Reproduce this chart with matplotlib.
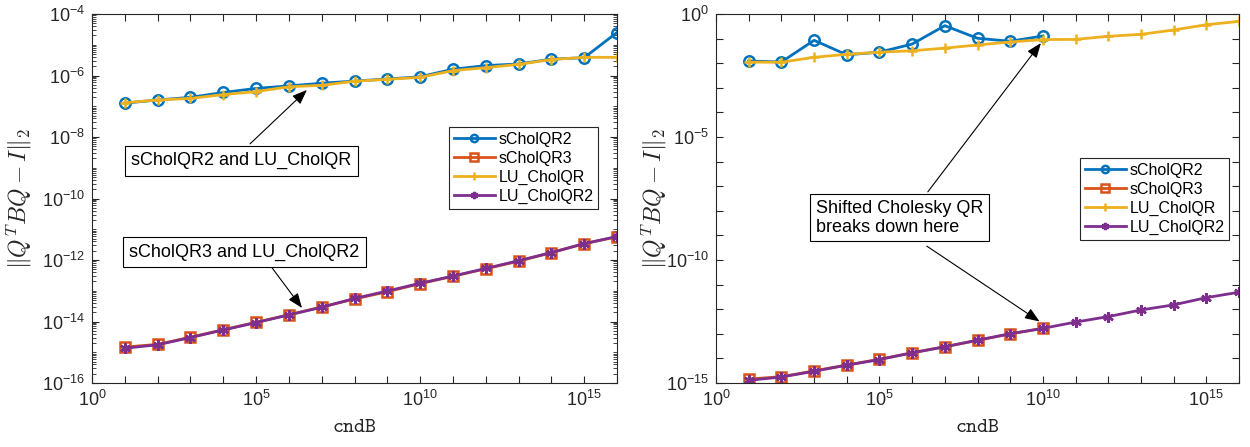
import numpy as np
import matplotlib
matplotlib.use("Agg")
import matplotlib.pyplot as plt
from matplotlib.ticker import FixedLocator, LogLocator, FuncFormatter, NullLocator, NullFormatter

plt.rcParams['font.family'] = ['Liberation Sans', 'DejaVu Sans']
plt.rcParams['mathtext.fontset'] = 'custom'
plt.rcParams['mathtext.rm'] = 'Liberation Sans'
plt.rcParams['mathtext.it'] = 'Liberation Sans:italic'
plt.rcParams['mathtext.default'] = 'it'

# condition number of B: 10^1 ... 10^16
cnd = 10.0 ** np.arange(1, 17)

# --- left panel ---
left_scholqr2 = [1.26e-7, 1.6e-7, 1.95e-7, 2.8e-7, 3.8e-7, 4.6e-7, 5.6e-7, 6.6e-7,
                 7.7e-7, 9.1e-7, 1.6e-6, 2.1e-6, 2.37e-6, 3.4e-6, 3.8e-6, 2.5e-5]
left_scholqr3 = [1.48e-15, 1.8e-15, 3.1e-15, 5.4e-15, 9.4e-15, 1.66e-14, 2.96e-14, 5.4e-14,
                 9.3e-14, 1.7e-13, 2.95e-13, 5.2e-13, 9.1e-13, 1.73e-12, 3.4e-12, 5.7e-12]
left_lu_cholqr = [1.3e-7, 1.6e-7, 1.8e-7, 2.4e-7, 3.0e-7, 4.3e-7, 4.8e-7, 6.5e-7,
                  7.5e-7, 8.7e-7, 1.44e-6, 1.8e-6, 2.3e-6, 3.3e-6, 3.9e-6, 3.9e-6]
left_lu_cholqr2 = [1.35e-15, 1.75e-15, 3.0e-15, 5.3e-15, 9.2e-15, 1.64e-14, 2.9e-14, 5.6e-14,
                   9.8e-14, 1.75e-13, 3.0e-13, 5.3e-13, 9.5e-13, 1.75e-12, 3.4e-12, 5.8e-12]

# --- right panel (shifted CholeskyQR stops at cndB = 1e10) ---
right_scholqr2 = [0.0123, 0.0112, 0.085, 0.022, 0.028, 0.06, 0.335, 0.103, 0.078, 0.128]
right_scholqr3 = [1.45e-15, 1.8e-15, 3.1e-15, 5.4e-15, 9.2e-15, 1.7e-14, 3.0e-14, 5.4e-14,
                  1.0e-13, 1.66e-13]
right_lu_cholqr = [0.011, 0.011, 0.0174, 0.023, 0.028, 0.032, 0.041, 0.055,
                   0.073, 0.091, 0.093, 0.124, 0.149, 0.224, 0.367, 0.50]
right_lu_cholqr2 = [1.29e-15, 1.75e-15, 3.0e-15, 5.3e-15, 9.0e-15, 1.68e-14, 2.95e-14, 5.5e-14,
                    1.0e-13, 1.66e-13, 3.0e-13, 5.0e-13, 9.3e-13, 1.5e-12, 2.95e-12, 4.9e-12]

labels = ['sCholQR2', 'sCholQR3', 'LU_CholQR', 'LU_CholQR2']
colors = ['#0072BD', '#D95319', '#EDB120', '#7E2F8E']
markers = ['o', 's', '+', (6, 2, 0)]
axcol = '#262626'


def log_label(step):
    def fmt(v, pos):
        e = int(round(np.log10(v)))
        if e % step != 0:
            return ''
        return r'$10^{%d}$' % e
    return fmt


def draw_panel(ax, series):
    for (x, y), lab, c, m in zip(series, labels, colors, markers):
        ax.plot(x, y, color=c, marker=m, lw=2, ms=7.5, mew=1.8,
                mfc='none', label=lab)
    ax.set_xscale('log')
    ax.set_yscale('log')
    ax.set_xlim(1, 1e16)
    ax.xaxis.set_major_locator(FixedLocator(10.0 ** np.arange(0, 17)))
    ax.xaxis.set_minor_locator(NullLocator())
    ax.xaxis.set_major_formatter(FuncFormatter(log_label(5)))
    ax.xaxis.set_minor_formatter(NullFormatter())
    ax.yaxis.set_minor_formatter(NullFormatter())
    ax.tick_params(which='both', direction='in', top=True, right=True,
                   colors=axcol, labelsize=13, pad=5)
    ax.tick_params(which='major', length=5, width=0.8)
    ax.tick_params(which='minor', length=3, width=0.6)
    for s in ax.spines.values():
        s.set_color(axcol)
        s.set_linewidth(0.8)
    ax.set_xlabel(r'$\mathtt{cndB}$', math_fontfamily='cm', fontsize=15,
                  color=axcol, labelpad=5)
    ax.set_ylabel(r'$\|Q^TBQ-I\|_2$', math_fontfamily='cm', fontsize=17, color=axcol)


fig = plt.figure(figsize=(12.5, 4.47), dpi=100)
ax1 = fig.add_axes([92 / 1250, 64 / 447, 525 / 1250, 369 / 447])
ax2 = fig.add_axes([716 / 1250, 64 / 447, 523 / 1250, 369 / 447])

draw_panel(ax1, [(cnd, left_scholqr2), (cnd, left_scholqr3),
                 (cnd, left_lu_cholqr), (cnd, left_lu_cholqr2)])
ax1.set_ylim(1e-16, 1e-4)
ax1.yaxis.set_major_locator(FixedLocator(10.0 ** np.arange(-16, -3, 2)))
ax1.yaxis.set_minor_locator(LogLocator(base=10, subs=np.arange(1, 10), numticks=50))
ax1.yaxis.set_major_formatter(FuncFormatter(log_label(1)))
ax1.yaxis.set_label_coords(-0.110, 0.5)

draw_panel(ax2, [(cnd[:10], right_scholqr2), (cnd[:10], right_scholqr3),
                 (cnd, right_lu_cholqr), (cnd, right_lu_cholqr2)])
ax2.set_ylim(1e-15, 1)
ax2.yaxis.set_major_locator(FixedLocator(10.0 ** np.arange(-15, 1)))
ax2.yaxis.set_minor_locator(NullLocator())
ax2.yaxis.set_major_formatter(FuncFormatter(log_label(5)))
ax2.yaxis.set_label_coords(-0.090, 0.5)

leg_kw = dict(loc='upper right', fontsize=11.5, fancybox=False, framealpha=1,
              edgecolor=axcol, handlelength=2.6, handletextpad=0.2,
              labelspacing=0.25, borderpad=0.3, markerscale=0.7, borderaxespad=0)
ax1.legend(bbox_to_anchor=(0.964, 0.694), **leg_kw).get_frame().set_linewidth(0.8)
ax2.legend(bbox_to_anchor=(0.981, 0.610), **leg_kw).get_frame().set_linewidth(0.8)

box = dict(boxstyle='square,pad=0.35', fc='white', ec='k', lw=0.8)
arrow = dict(arrowstyle='-|>,head_length=0.9,head_width=0.35', color='k', lw=0.8,
             shrinkA=0, shrinkB=0)

ax1.text(0.284, 0.602, 'sCholQR2 and LU_CholQR', transform=ax1.transAxes,
         ha='center', va='center', fontsize=13, bbox=box, zorder=5)
ax1.annotate('', xy=(10 ** 6.55, 10 ** -6.47), xytext=(0.301, 0.648),
             textcoords='axes fraction', arrowprops=arrow)
ax1.text(0.290, 0.354, 'sCholQR3 and LU_CholQR2', transform=ax1.transAxes,
         ha='center', va='center', fontsize=13, bbox=box, zorder=5)
ax1.annotate('', xy=(10 ** 6.4, 10 ** -13.56), xytext=(0.343, 0.312),
             textcoords='axes fraction', arrowprops=arrow)

ax2.text(0.191, 0.448, 'Shifted Cholesky QR\nbreaks down here', transform=ax2.transAxes,
         ha='left', va='center', fontsize=13, linespacing=1.15,
         bbox=dict(boxstyle='square,pad=0.3', fc='white', ec='k', lw=0.8), zorder=5)
ax2.annotate('', xy=(10 ** 9.94, 10 ** -1.18), xytext=(0.405, 0.518),
             textcoords='axes fraction', arrowprops=arrow)
ax2.annotate('', xy=(10 ** 9.9, 10 ** -12.5), xytext=(0.403, 0.371),
             textcoords='axes fraction', arrowprops=arrow)

fig.savefig('out.png', dpi=100)
